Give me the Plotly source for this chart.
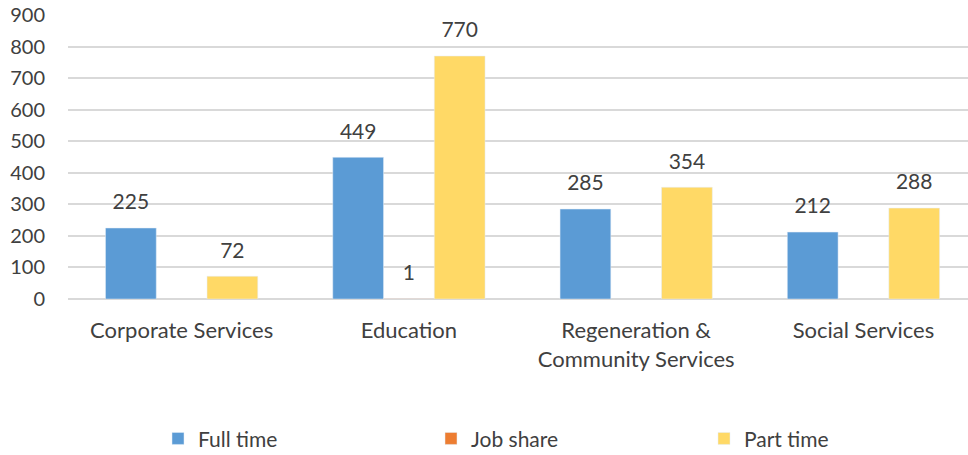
import plotly.graph_objects as go

categories = ["Corporate Services", "Education", "Regeneration &<br>Community Services", "Social Services"]
full_time = [225, 449, 285, 212]
job_share = [None, 1, None, None]
part_time = [72, 770, 354, 288]
y_ticks = [0, 100, 200, 300, 400, 500, 600, 700, 800, 900]

FONT = "Lato, Open Sans, sans-serif"
TXT = "#404040"
FS = 21
GAP = 0.33

series = [("Full time", full_time, "#5B9BD5"),
          ("Job share", job_share, "#ED7D31"),
          ("Part time", part_time, "#FFD966")]

fig = go.Figure()
for name, vals, color in series:
    fig.add_trace(go.Bar(name=name, x=categories, y=vals, marker_color=color,
                         offsetgroup=name))
for name, vals, color in series:
    fig.add_trace(go.Scatter(
        name=name, x=categories, y=vals, mode="markers+text", offsetgroup=name,
        marker=dict(size=20, opacity=0), showlegend=False, hoverinfo="skip",
        text=[("" if v is None else str(v)) for v in vals],
        textposition="top center", cliponaxis=False,
        textfont=dict(size=FS, color=TXT, family=FONT),
    ))

fig.update_layout(
    width=968, height=455,
    margin=dict(l=68, r=0, t=15, b=156, autoexpand=False),
    paper_bgcolor="white", plot_bgcolor="white",
    barmode="group", bargap=GAP, bargroupgap=0,
    scattermode="group", scattergap=GAP,
    font=dict(family=FONT, size=FS, color=TXT),
    showlegend=True,
    legend=dict(orientation="h", x=0.555, xanchor="center", y=-0.42, yanchor="top",
                entrywidth=228, itemwidth=30, font=dict(size=FS, color=TXT, family=FONT)),
    xaxis=dict(range=[-0.5, 3.46], showgrid=False, showline=False, ticks="",
               ticklabelstandoff=16, tickfont=dict(size=FS + 1, color=TXT)),
    yaxis=dict(range=[0, 900], tickvals=y_ticks, showgrid=True, gridcolor="#D9D9D9",
               gridwidth=1.5, zeroline=True, zerolinecolor="#D9D9D9", zerolinewidth=1.5,
               showline=False, ticks="", ticklabelstandoff=22, ticklabeloverflow="allow",
               tickfont=dict(size=20, color=TXT)),
)

fig.write_html("out.html", config={"displayModeBar": False},
               post_script="document.body.style.margin='0';document.body.style.overflow='hidden';")
